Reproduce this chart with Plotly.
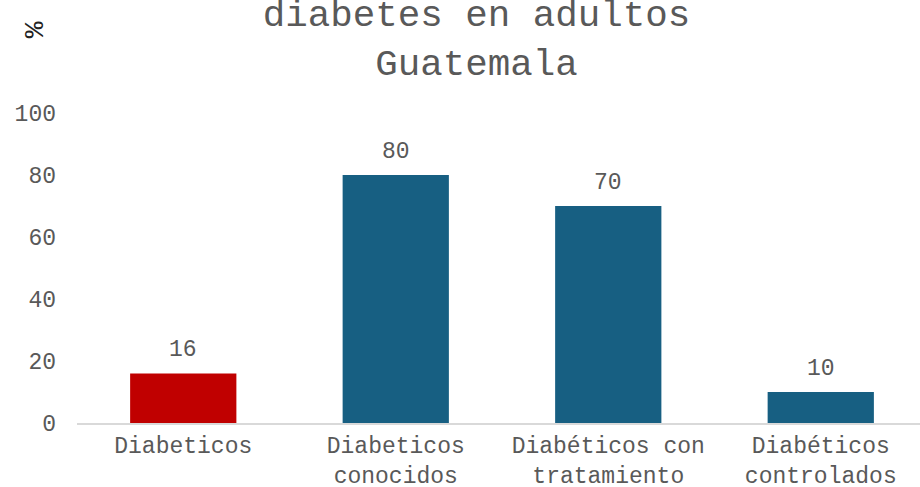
import plotly.graph_objects as go

categories = ["Diabeticos", "Diabeticos<br>conocidos", "Diabéticos con<br>tratamiento", "Diabéticos<br>controlados"]
values = [16, 80, 70, 10]
bar_colors = ["#C00000", "#175F82", "#175F82", "#175F82"]
y_ticks = [0, 20, 40, 60, 80, 100]

FONT = "Courier New, Liberation Mono, monospace"
GRAY = "#595959"

fig = go.Figure()
fig.add_trace(go.Bar(
    x=categories, y=values, marker=dict(color=bar_colors, line=dict(width=0)),
    width=0.5, hoverinfo="skip",
))
for c, v in zip(categories, values):
    fig.add_annotation(x=c, y=v, text=str(v), showarrow=False, yanchor="bottom",
                       yshift=8, font=dict(family=FONT, size=23, color=GRAY))

fig.add_annotation(xref="paper", yref="paper", x=-0.05, y=1.27, text="%", textangle=-90,
                   showarrow=False, font=dict(family=FONT, size=28, color="#222222"),
                   xanchor="center", yanchor="middle")

fig.update_layout(
    width=920, height=487,
    margin=dict(l=77, r=0, t=113, b=64),
    paper_bgcolor="white", plot_bgcolor="white",
    showlegend=False,
    title=dict(text="diabetes en adultos<br>Guatemala", x=0.518, xanchor="center",
               yref="container", y=0.947, yanchor="top",
               font=dict(family=FONT, size=37.5, color=GRAY)),
    font=dict(family=FONT, size=23, color=GRAY),
    xaxis=dict(range=[-0.5, 3.467], showline=True, linecolor="#D9D9D9", linewidth=2,
               showgrid=False, ticks="", ticklabelstandoff=0,
               tickfont=dict(family=FONT, size=23, color=GRAY),
               fixedrange=True, automargin=False),
    yaxis=dict(range=[0, 100], tickvals=y_ticks, showgrid=False, zeroline=False,
               showline=False, ticks="", ticklabelstandoff=20,
               tickfont=dict(family=FONT, size=23, color=GRAY), fixedrange=True,
               automargin=False),
)

fig.write_html("out.html", config={"displayModeBar": False},
               post_script="document.body.style.margin='0';document.body.style.overflow='hidden';")
